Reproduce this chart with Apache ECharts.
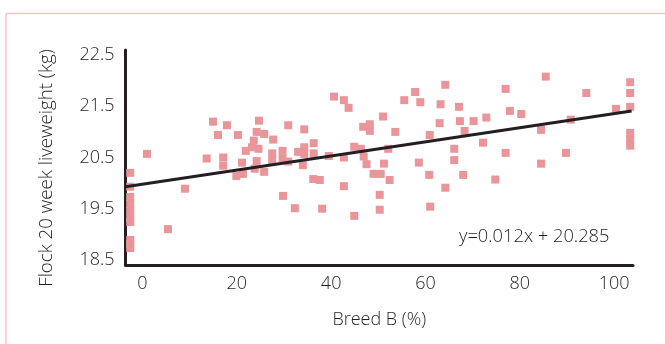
<!DOCTYPE html>
<html>
<head>
<meta charset="utf-8">
<script src="https://cdn.jsdelivr.net/npm/echarts@6/dist/echarts.min.js"></script>
<style>
  html, body { margin: 0; padding: 0; background: #fff; }
  #chart { width: 665px; height: 344px; }
</style>
</head>
<body>
<div id="chart"></div>
<script>
// values
const breedPct = [
  -2.6, -2.6, -2.6, -2.6, -2.6, -2.6, -2.6, -2.6, -2.6, -2.6,
  0.95, 5.4, 9.0, 13.6, 14.95, 16.0, 17.1, 17.1, 17.9, 20.25,
  19.9, 21.3, 21.1, 21.9, 23.6, 23.2, 24.2, 24.7, 25.8, 24.6,
  24.2, 23.8, 25.8, 27.7, 27.5, 27.5, 29.7, 29.7, 30.9, 30.9,
  29.8, 32.3, 33.0, 34.3, 34.3, 34.3, 34.0, 36.3, 36.3, 36.2,
  37.6, 38.1, 39.5, 40.6, 42.7, 43.7, 42.7, 42.7, 44.9, 46.3,
  46.9, 47.5, 44.9, 46.8, 48.2, 48.2, 49.0, 50.5, 50.3, 50.3,
  51.0, 51.2, 52.1, 52.4, 53.6, 55.5, 57.8, 58.9, 58.6, 60.9,
  60.8, 61.0, 63.2, 63.0, 64.2, 64.2, 66.1, 66.1, 67.1, 67.3,
  68.3, 68.0, 70.2, 72.2, 72.9, 74.8, 77.0, 77.9, 77.0, 80.3,
  85.5, 84.5, 84.5, 89.8, 90.8, 94.1, 100.4, 103.4, 103.4, 103.4,
  103.4, 103.4, 103.4
]
const liveweight = [
  20.20, 19.93, 19.73, 19.59, 19.46, 19.32, 19.24, 18.89, 18.81, 18.73,
  20.57, 19.10, 19.89, 20.48, 21.20, 20.94, 20.50, 20.34, 21.13, 20.94,
  20.14, 20.18, 20.40, 20.63, 20.83, 20.70, 21.00, 21.22, 20.96, 20.67,
  20.43, 20.28, 20.22, 20.85, 20.58, 20.45, 20.63, 20.48, 21.13, 20.42,
  19.75, 19.51, 20.61, 21.05, 20.70, 20.57, 20.35, 20.78, 20.58, 20.08,
  20.06, 19.50, 20.53, 21.69, 21.62, 21.47, 20.50, 19.94, 20.71, 20.67,
  20.52, 20.37, 19.36, 21.10, 21.15, 21.02, 20.18, 20.18, 19.77, 19.48,
  21.30, 20.38, 20.67, 20.06, 21.00, 21.62, 21.78, 21.58, 20.40, 20.94,
  20.16, 19.54, 21.54, 21.17, 21.92, 19.91, 20.67, 20.45, 21.49, 21.21,
  21.02, 20.16, 21.21, 20.79, 21.28, 20.07, 21.84, 21.41, 20.59, 21.35,
  22.08, 21.04, 20.38, 20.59, 21.24, 21.76, 21.45, 21.97, 21.76, 21.49,
  20.98, 20.85, 20.73
]
// trend line as drawn (end points)
const trendX = [-3.6, 103.7]
const trendY = [19.93, 21.41]

const xTicks = [0, 20, 40, 60, 80, 100]
const yTicks = [18.5, 19.5, 20.5, 21.5, 22.5]

const fontName = 'Open Sans'
const textColor = '#231f20'

const chart = echarts.init(document.getElementById('chart'), null, { renderer: 'canvas' })

const points = breedPct.map((x, i) => [x, liveweight[i]])
const trend = trendX.map((x, i) => [x, trendY[i]])

chart.setOption({
  backgroundColor: '#fff',
  animation: false,
  grid: {
    left: 125.5,
    right: 32,
    top: 50,
    bottom: 79
  },
  xAxis: {
    type: 'value',
    min: -3.6,
    max: 104.0,
    splitLine: { show: false },
    axisTick: { show: false },
    axisLine: { onZero: false, lineStyle: { color: textColor, width: 3 } },
    axisLabel: {
      customValues: xTicks,
      margin: 10,
      color: textColor,
      fontFamily: fontName,
      fontSize: 18,
      fontWeight: 300
    },
    name: 'Breed B (%)',
    nameLocation: 'middle',
    nameGap: 46,
    nameTextStyle: {
      color: textColor,
      fontFamily: fontName,
      fontSize: 18,
      fontWeight: 300
    }
  },
  yAxis: {
    type: 'value',
    min: 18.4,
    max: 22.6,
    splitLine: { show: false },
    axisTick: { show: false },
    axisLine: { onZero: false, lineStyle: { color: textColor, width: 3 } },
    axisLabel: {
      customValues: yTicks,
      margin: 11,
      color: textColor,
      fontFamily: fontName,
      fontSize: 18,
      fontWeight: 300,
      formatter: v => v.toFixed(1)
    }
  },
  graphic: [
    {
      type: 'rect',
      silent: true,
      shape: { x: 6, y: 13.5, width: 700, height: 400 },
      style: { fill: 'none', stroke: '#f3c5c8', lineWidth: 1.5 }
    },
    {
      type: 'text',
      x: 47,
      y: 168,
      rotation: Math.PI / 2,
      style: {
        text: 'Flock 20 week liveweight (kg)',
        fill: textColor,
        font: '300 18.7px "Open Sans"',
        align: 'center',
        verticalAlign: 'middle'
      }
    },
    {
      type: 'text',
      x: 459,
      y: 237,
      style: {
        text: 'y=0.012x + 20.285',
        fill: textColor,
        font: '300 18.3px "Open Sans"',
        align: 'left',
        verticalAlign: 'middle'
      }
    }
  ],
  series: [
    {
      type: 'scatter',
      data: points,
      symbol: 'rect',
      symbolSize: 8,
      itemStyle: { color: '#e9959a', opacity: 1 },
      z: 2
    },
    {
      type: 'line',
      data: trend,
      symbol: 'none',
      lineStyle: { color: textColor, width: 3 },
      z: 3
    }
  ]
})
</script>
</body>
</html>
